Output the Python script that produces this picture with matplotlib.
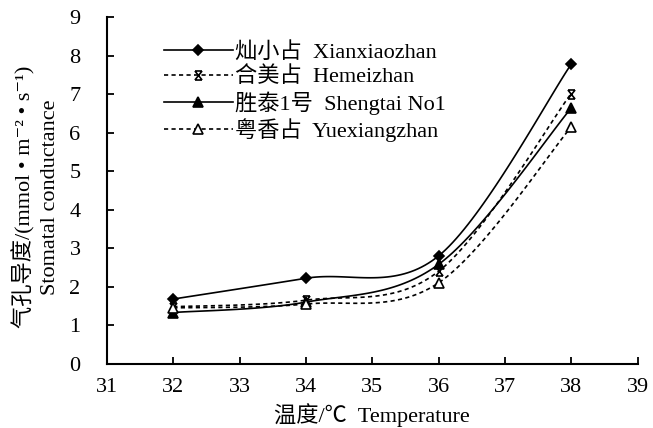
import matplotlib
matplotlib.use('Agg')
import matplotlib.pyplot as plt
from matplotlib.path import Path
import numpy as np

plt.rcParams['font.family'] = ['Liberation Serif', 'Noto Sans CJK SC', 'DejaVu Serif']
plt.rcParams['font.size'] = 16

# Data
temps = [32, 34, 36, 38]
xianxiao = [1.68, 2.22, 2.80, 7.78]
hemei = [1.48, 1.65, 2.40, 7.02]
shengtai = [1.33, 1.60, 2.58, 6.64]
yuexiang = [1.45, 1.55, 2.10, 6.15]

names = ['灿小占  Xianxiaozhan', '合美占  Hemeizhan',
         '胜泰1号  Shengtai No1', '粤香占  Yuexiangzhan']


def smooth(x, y, n=40):
    # Catmull-Rom style smoothing, like spreadsheet "smoothed line"
    x = np.asarray(x, float)
    y = np.asarray(y, float)
    px = np.concatenate([[x[0]], x, [x[-1]]])
    py = np.concatenate([[y[0]], y, [y[-1]]])
    xs, ys = [], []
    for i in range(1, len(px) - 2):
        p0 = np.array([px[i - 1], py[i - 1]])
        p1 = np.array([px[i], py[i]])
        p2 = np.array([px[i + 1], py[i + 1]])
        p3 = np.array([px[i + 2], py[i + 2]])
        c1 = p1 + (p2 - p0) / 6
        c2 = p2 - (p3 - p1) / 6
        t = np.linspace(0, 1, n)[:, None]
        pts = ((1 - t) ** 3) * p1 + 3 * ((1 - t) ** 2) * t * c1 \
            + 3 * (1 - t) * t ** 2 * c2 + t ** 3 * p2
        xs.extend(pts[:, 0])
        ys.extend(pts[:, 1])
    return np.array(xs), np.array(ys)


# star marker: X with short bars top and bottom
star = Path([(-0.8, -1), (0.8, 1), (-0.8, 1), (0.8, -1),
             (-0.7, 1), (0.7, 1), (-0.7, -1), (0.7, -1)],
            [Path.MOVETO, Path.LINETO] * 4)

series = [
    (xianxiao, '-', 'D', 'black', 5.5),
    (hemei, (0, (2.5, 2)), star, 'black', 6.5),
    (shengtai, '-', '^', 'black', 7),
    (yuexiang, (0, (2.5, 2)), '^', 'white', 7),
]

fig = plt.figure(figsize=(6.53, 4.28), dpi=100)
ax = fig.add_axes([107 / 653, 1 - 363.7 / 428, 530.5 / 653, 346.4 / 428])

for (vals, ls, mk, fc, ms), name in zip(series, names):
    sx, sy = smooth(temps, vals)
    ax.plot(sx, sy, color='black', linestyle=ls, linewidth=1.2)
    ax.plot(temps, vals, linestyle='none', marker=mk, markersize=ms,
            markerfacecolor=fc, markeredgecolor='black', markeredgewidth=1.2)
    ax.plot([], [], color='black', linestyle=ls, linewidth=1.2, marker=mk,
            markersize=ms, markerfacecolor=fc, markeredgecolor='black',
            markeredgewidth=1.2, label=name)

ax.set_xlim(31, 39)
ax.set_ylim(0, 9)
ax.set_xticks(range(31, 40))
ax.set_yticks(range(0, 10))
ax.spines['top'].set_visible(False)
ax.spines['right'].set_visible(False)
for s in ['left', 'bottom']:
    ax.spines[s].set_linewidth(1.5)
ax.tick_params(direction='in', length=5, width=1.3, labelsize=16)
ax.tick_params(axis='x', pad=10)
ax.tick_params(axis='y', pad=19)

ax.set_xlabel('温度/℃  Temperature', fontsize=16, labelpad=5)
fig.text(0.036, 0.54, '气孔导度/(mmol • m⁻² • s⁻¹)', rotation=90,
         ha='center', va='center', fontsize=16)
fig.text(0.078, 0.54, 'Stomatal conductance', rotation=90,
         ha='center', va='center', fontsize=16)

leg = ax.legend(loc='upper left', bbox_to_anchor=(0.09, 0.955), frameon=False,
                fontsize=16, handlelength=3.1, handletextpad=0.1,
                labelspacing=0.17, borderaxespad=0)

plt.savefig('out.png', dpi=100)
